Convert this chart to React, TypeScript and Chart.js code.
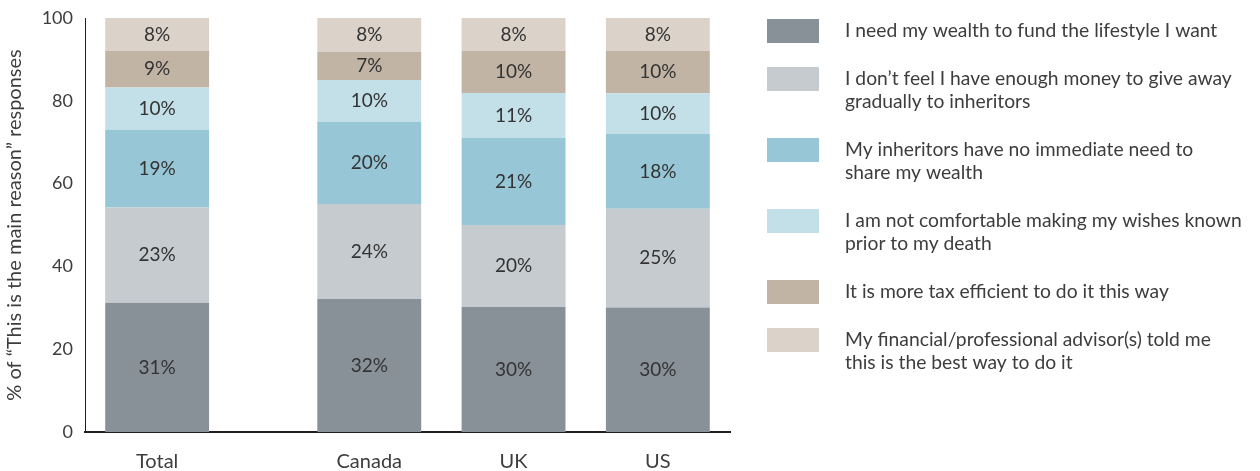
import React, { useEffect, useRef } from "react";
import { Chart, registerables } from "chart.js";

Chart.register(...registerables);

const FONT = "Lato, 'Open Sans', sans-serif";

// Categories (x axis)
const categories = ["Total", "Canada", "UK", "US"];

// Series names (legend), wrapped as in the reference
const seriesNames: string[][] = [
  ["I need my wealth to fund the lifestyle I want"],
  ["I don’t feel I have enough money to give away", "gradually to inheritors"],
  ["My inheritors have no immediate need to", "share my wealth"],
  ["I am not comfortable making my wishes known", "prior to my death"],
  ["It is more tax efficient to do it this way"],
  ["My financial/professional advisor(s) told me", "this is the best way to do it"],
];

// Segment heights (% of responses)
const lifestyle = [31.2, 32.1, 30.2, 30.1];
const notEnough = [23.0, 23.0, 19.8, 23.8];
const noNeed = [18.8, 19.8, 21.0, 18.1];
const notComfortable = [10.2, 10.1, 10.9, 9.8];
const taxEfficient = [8.8, 6.8, 10.1, 10.2];
const advisor = [8.0, 8.2, 8.0, 8.0];

// Printed percentage labels
const lifestyleLabels = [31, 32, 30, 30];
const notEnoughLabels = [23, 24, 20, 25];
const noNeedLabels = [19, 20, 21, 18];
const notComfortableLabels = [10, 10, 11, 10];
const taxEfficientLabels = [9, 7, 10, 10];
const advisorLabels = [8, 8, 8, 8];

// Y axis ticks
const yTicks = [0, 20, 40, 60, 80, 100];
const yTitle = "% of “This is the main reason” responses";

const seriesValues = [lifestyle, notEnough, noNeed, notComfortable, taxEfficient, advisor];
const seriesLabels = [
  lifestyleLabels,
  notEnoughLabels,
  noNeedLabels,
  notComfortableLabels,
  taxEfficientLabels,
  advisorLabels,
];
const colors = ["#899198", "#c6cbcf", "#97c7d7", "#c3e0e8", "#c2b4a5", "#dbd3c9"];

// Layout: gap (in category units) between "Total" and the country bars
const GROUP_GAP = 0.47;
const positions = categories.map((_, i) => i + (i > 0 ? GROUP_GAP : 0));

const TEXT = "#3d3d3d";

const barLabelPlugin = {
  id: "barLabels",
  afterDatasetsDraw(chart: any) {
    const ctx = chart.ctx;
    ctx.save();
    ctx.font = `19px ${FONT}`;
    ctx.fillStyle = "#333";
    ctx.textAlign = "center";
    ctx.textBaseline = "middle";
    chart.data.datasets.forEach((_: any, di: number) => {
      const meta = chart.getDatasetMeta(di);
      meta.data.forEach((bar: any, i: number) => {
        const p = bar.getProps(["x", "y", "base"], true);
        ctx.fillText(`${seriesLabels[di][i]}%`, p.x, (p.y + p.base) / 2);
      });
    });
    ctx.restore();
  },
};

const legendPlugin = {
  id: "sideLegend",
  afterDraw(chart: any) {
    const ctx = chart.ctx;
    const boxX = chart.chartArea.right + 37;
    const boxW = 52;
    const boxH = 24;
    const textX = boxX + 78;
    const lineH = 23;
    const gap = 25;
    let top = 19;
    ctx.save();
    ctx.font = `19.3px ${FONT}`;
    ctx.textAlign = "left";
    ctx.textBaseline = "middle";
    seriesNames.forEach((lines, i) => {
      ctx.fillStyle = colors[i];
      ctx.fillRect(boxX, top, boxW, boxH);
      ctx.fillStyle = TEXT;
      lines.forEach((ln, k) => {
        ctx.fillText(ln, textX, top + boxH / 2 + k * lineH);
      });
      top += lines.length * lineH + gap;
    });
    ctx.restore();
  },
};

export default function App() {
  const ref = useRef<HTMLCanvasElement | null>(null);

  useEffect(() => {
    document.body.style.margin = "0";
    if (!ref.current) return;
    const chart = new Chart(ref.current, {
      type: "bar",
      data: {
        datasets: seriesValues.map((vals, si) => ({
          label: seriesNames[si].join(" "),
          data: vals.map((v, i) => ({ x: positions[i], y: v })),
          backgroundColor: colors[si],
          borderWidth: 0,
        })),
      },
      options: {
        animation: false,
        responsive: false,
        maintainAspectRatio: false,
        layout: { padding: { top: 18, right: 530, bottom: 0, left: 0 } },
        plugins: {
          legend: { display: false },
          tooltip: { enabled: false },
        },
        scales: {
          x: {
            type: "linear",
            stacked: true,
            offset: false,
            min: positions[0] - 0.5,
            max: positions[positions.length - 1] + 0.5,
            grid: { display: false, drawTicks: false },
            border: { display: true, color: "#231f20", width: 2 },
            afterBuildTicks: (scale: any) => {
              scale.ticks = positions.map((value) => ({ value }));
            },
            afterFit: (scale: any) => {
              scale.height = 39;
              scale.paddingLeft = 0;
              scale.paddingRight = 0;
            },
            ticks: {
              autoSkip: false,
              maxRotation: 0,
              padding: 18,
              color: TEXT,
              font: { family: FONT, size: 20 },
              callback: (value: any) => {
                const idx = positions.indexOf(value);
                return idx >= 0 ? categories[idx] : "";
              },
            },
          },
          y: {
            stacked: true,
            min: 0,
            max: 100,
            grid: { display: false, drawTicks: false },
            border: { display: true, color: "#231f20", width: 1 },
            afterBuildTicks: (scale: any) => {
              scale.ticks = yTicks.map((value) => ({ value }));
            },
            afterFit: (scale: any) => {
              scale.width = 85;
              scale.paddingTop = 0;
              scale.paddingBottom = 0;
            },
            ticks: {
              padding: 12,
              color: TEXT,
              font: { family: FONT, size: 18 },
            },
            title: {
              display: true,
              text: yTitle,
              color: TEXT,
              font: { family: FONT, size: 20 },
              padding: { top: 3, bottom: 0 },
            },
          },
        },
      },
      plugins: [barLabelPlugin, legendPlugin],
    });
    return () => chart.destroy();
  }, []);

  return (
    <div style={{ width: 1260, height: 471 }}>
      <canvas ref={ref} width={1260} height={471} style={{ display: "block" }} />
    </div>
  );
}
